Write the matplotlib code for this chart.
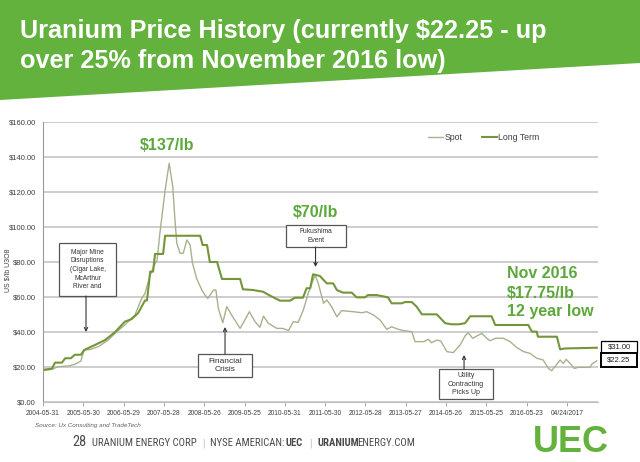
import matplotlib
matplotlib.use("Agg")

import numpy as np
import matplotlib.pyplot as plt
from matplotlib.patches import Polygon, Rectangle
from matplotlib import font_manager

# narrow family for the footer, only if it also has a bold face
weights = {}
for f in font_manager.fontManager.ttflist:
    w = f.weight if isinstance(f.weight, int) else 700 if 'bold' in str(f.weight) else 400
    weights.setdefault(f.name, set()).add(w)
narrow = 'Liberation Sans'
for cand in ['Liberation Sans Narrow', 'Arial Narrow', 'Archivo Narrow', 'Roboto Condensed',
             'PT Sans Narrow']:
    if cand in weights and max(weights[cand]) >= 600 and min(weights[cand]) <= 500:
        narrow = cand
        break
plt.rcParams['font.family'] = ['Liberation Sans', 'DejaVu Sans']

# Data (decimal years, US$/lb)
lt_year = [2004.43, 2004.63, 2004.71, 2004.88, 2004.96, 2005.10, 2005.20, 2005.35, 2005.43,
           2005.70, 2005.95, 2006.20, 2006.44, 2006.61, 2006.77, 2006.94, 2006.99, 2007.07,
           2007.14, 2007.19, 2007.39, 2007.44, 2008.31, 2008.37, 2008.48, 2008.55, 2008.73,
           2008.85, 2009.30, 2009.37, 2009.62, 2009.87, 2010.04, 2010.29, 2010.54, 2010.66,
           2010.86, 2010.95, 2011.04, 2011.11, 2011.28, 2011.45, 2011.61, 2011.70, 2011.85,
           2012.07, 2012.19, 2012.40, 2012.47, 2012.69, 2012.97, 2013.06, 2013.31, 2013.39,
           2013.56, 2013.68, 2013.81, 2014.18, 2014.39, 2014.55, 2014.72, 2014.88, 2015.01,
           2015.54, 2015.63, 2016.45, 2016.54, 2016.66, 2016.69, 2017.16, 2017.24, 2017.36,
           2018.15]
lt_price = [18.5, 19.0, 22.5, 22.5, 25.0, 25.0, 27.0, 27.0, 29.7,
            32.6, 35.4, 40.0, 45.9, 47.4, 50.8, 58.0, 58.0, 74.5,
            74.5, 84.6, 84.6, 95.0, 95.0, 89.7, 89.7, 80.0, 80.0,
            70.3, 70.3, 64.4, 64.0, 63.0, 60.8, 57.9, 57.9, 59.6,
            59.6, 65.0, 65.0, 73.0, 72.0, 67.8, 67.8, 64.0, 62.5,
            62.5, 59.8, 59.8, 61.1, 61.1, 59.8, 56.4, 56.4, 57.1,
            57.1, 54.5, 50.1, 50.1, 45.0, 44.4, 44.4, 45.0, 49.0,
            49.0, 44.0, 44.0, 40.2, 40.2, 37.3, 37.3, 30.1, 30.6,
            31.0]

spot_year = [2004.43, 2004.63, 2004.79, 2005.04, 2005.20, 2005.35, 2005.43, 2005.58, 2005.78,
             2006.03, 2006.24, 2006.44, 2006.69, 2006.86, 2006.94, 2007.07, 2007.19, 2007.24,
             2007.31, 2007.44, 2007.54, 2007.63, 2007.69, 2007.73, 2007.81, 2007.89, 2007.98,
             2008.06, 2008.12, 2008.22, 2008.35, 2008.43, 2008.50, 2008.64, 2008.70, 2008.76,
             2008.87, 2008.97, 2009.09, 2009.30, 2009.42, 2009.53, 2009.67, 2009.79, 2009.88,
             2010.00, 2010.21, 2010.37, 2010.50, 2010.62, 2010.74, 2010.87, 2010.99, 2011.08,
             2011.16, 2011.24, 2011.37, 2011.45, 2011.57, 2011.70, 2011.82, 2012.11, 2012.32,
             2012.44, 2012.61, 2012.77, 2012.94, 2013.06, 2013.19, 2013.35, 2013.56, 2013.64,
             2013.85, 2013.97, 2014.05, 2014.18, 2014.28, 2014.43, 2014.59, 2014.76, 2014.88,
             2014.96, 2015.07, 2015.17, 2015.30, 2015.42, 2015.50, 2015.63, 2015.83, 2016.00,
             2016.16, 2016.33, 2016.49, 2016.66, 2016.82, 2016.95, 2017.03, 2017.11, 2017.24,
             2017.32, 2017.39, 2017.49, 2017.59, 2017.69, 2017.98, 2018.03, 2018.15]
spot_price = [18.0, 18.7, 20.2, 20.6, 21.5, 23.4, 29.7, 30.0, 31.6,
              35.4, 40.2, 44.0, 49.7, 59.2, 62.0, 72.6, 79.0, 81.0,
              96.4, 121.0, 136.4, 123.0, 102.0, 90.6, 85.0, 85.0, 92.6,
              89.7, 79.2, 70.7, 64.0, 61.1, 59.2, 64.0, 64.0, 53.5,
              45.3, 54.5, 49.7, 42.1, 46.9, 51.6, 45.9, 42.7, 49.1,
              45.0, 42.1, 42.0, 40.8, 45.9, 45.5, 52.6, 62.1, 67.8,
              72.6, 67.8, 56.4, 58.3, 54.5, 48.7, 52.2, 51.6, 51.0,
              51.6, 49.7, 46.9, 41.5, 43.0, 41.8, 40.8, 40.2, 34.5,
              34.5, 35.8, 33.9, 35.4, 34.8, 28.8, 28.2, 32.6, 37.7,
              39.6, 36.4, 37.7, 39.2, 36.4, 35.0, 36.4, 36.4, 34.5,
              31.2, 28.8, 27.8, 25.0, 24.0, 19.2, 17.9, 20.2, 24.0,
              22.0, 24.4, 22.0, 19.2, 19.8, 19.8, 21.7, 23.5]

tick_labels = ['2004-05-31', '2005-05-30', '2006-05-29', '2007-05-28', '2008-05-26',
               '2009-05-25', '2010-05-31', '2011-05-30', '2012-05-28', '2013-05-27',
               '2014-05-26', '2015-05-25', '2016-05-23', '04/24/2017']
x0 = 2004.41

green = '#5DA83C'
lt_color = '#74963A'
spot_color = '#A6B28E'

fig = plt.figure(figsize=(6.4, 4.62), dpi=100)
W, H = 640.0, 462.0

# green banner with slanted bottom edge
fig.patches.append(Polygon([(0, 1), (1, 1), (1, 1 - 63 / H), (0, 1 - 100 / H)],
                           closed=True, transform=fig.transFigure,
                           facecolor='#63B23D', edgecolor='none', zorder=0))
fig.text(20 / W, 1 - 38 / H, 'Uranium Price History (currently $22.25 - up',
         color='white', fontsize=18.2, fontweight='bold', va='baseline')
fig.text(20 / W, 1 - 68 / H, 'over 25% from November 2016 low)',
         color='white', fontsize=18.2, fontweight='bold', va='baseline')

ax = fig.add_axes([43 / W, 1 - 402 / H, (598 - 43) / W, (402 - 122) / H])
ax.plot(spot_year, spot_price, color=spot_color, lw=1.0, label='Spot')
ax.plot(lt_year, lt_price, color=lt_color, lw=1.5, label='Long Term')

ax.set_xlim(x0, x0 + 13.77)
ax.set_ylim(0, 160)
ax.set_yticks(np.arange(0, 161, 20))
ax.set_yticklabels([f'${v:.2f}' for v in np.arange(0, 161, 20)])
ax.set_xticks([x0 + i for i in range(len(tick_labels))])
ax.set_xticklabels(tick_labels)
ax.tick_params(axis='y', labelsize=5.5, colors='#404040', length=0, pad=5)
ax.tick_params(axis='x', labelsize=4.8, labelcolor='#404040', color='#999999',
               length=3, width=0.6, pad=3)
ax.grid(axis='y', color='#C0C0C0', lw=1.1)
ax.set_axisbelow(True)
for s in ['top', 'right']:
    ax.spines[s].set_visible(False)
ax.spines['left'].set_color('#999999')
ax.spines['bottom'].set_color('#C0C0C0')
ax.set_ylabel('US $/lb U3O8', fontsize=5, color='#404040')
ax.yaxis.set_label_coords((11 - 43) / 555, (402 - 270) / 280)

ax.legend(loc='center left', bbox_to_anchor=((428 - 43) / 555, (402 - 138) / 280), ncol=2,
          frameon=False, fontsize=6.3, handlelength=1.7, handletextpad=0.15,
          columnspacing=2.3, borderpad=0, borderaxespad=0, labelcolor='#404040')


def px(x):
    return x0 + (x - 43) / 40.3


def py(y):
    return (402 - y) / 1.75


big = dict(color=green, fontsize=11.5, fontweight='bold', va='baseline')
ax.text(px(167), py(150), '$137/lb', ha='center', **big)
ax.text(px(315), py(217), '$70/lb', ha='center', **big)
ax.text(px(507), py(278), 'Nov 2016', ha='left', **big)
ax.text(px(507), py(298), '$17.75/lb', ha='left', **big)
ax.text(px(507), py(316), '12 year low', ha='left', **big)

arrow = dict(arrowstyle='->', color='#333333', lw=0.8, shrinkA=0, shrinkB=0,
             mutation_scale=6)


def note(x_left, x_right, y_top, y_bot, text, fs, tip_y, tail_y, arrow_x):
    ax.add_patch(Rectangle((px(x_left), py(y_bot)), px(x_right) - px(x_left),
                           py(y_top) - py(y_bot), facecolor='white', edgecolor='#555555',
                           lw=0.9, zorder=4, clip_on=False))
    ax.text(px((x_left + x_right) / 2), py((y_top + y_bot) / 2), text, fontsize=fs,
            color='#333333', ha='center', va='center', linespacing=1.3, zorder=5)
    ax.annotate('', xy=(px(arrow_x), py(tip_y)), xytext=(px(arrow_x), py(tail_y)),
                arrowprops=arrow, zorder=5)


note(59, 116, 243, 296, 'Major Mine\nDisruptions\n(Cigar Lake,\nMcArthur\nRiver and', 4.8,
     332, 296, 86)
note(286, 346, 225, 247, 'Fukushima\nEvent', 4.8, 267, 247, 315.5)
note(198, 252, 354, 377, 'Financial\nCrisis', 6, 327, 354, 225)
note(439, 493, 369, 399, 'Utility\nContracting\nPicks Up', 5, 355, 369, 464)

# value boxes at right
for (y0, y1, lab, lw) in [(341, 353, '$31.00', 0.9), (353, 367, '$22.25', 1.4)]:
    fig.patches.append(Rectangle((601 / W, 1 - y1 / H), 36 / W, (y1 - y0) / H,
                                 transform=fig.transFigure, facecolor='white',
                                 edgecolor='black', lw=lw))
    fig.text(619 / W, 1 - (y0 + y1) / 2 / H, lab, ha='center', va='center',
             fontsize=5.5, color='#222222')

fig.text(35 / W, 1 - 425 / H, 'Source: Ux Consulting and TradeTech', fontsize=4.5,
         style='italic', color='#606060', va='center')

# footer, pieces chained left to right, scaled to fit 72..415 px
fig.canvas.draw()
r = fig.canvas.get_renderer()
parts = [('28', 1.35, 'normal', 0), ('URANIUM ENERGY CORP', 1.0, 'normal', 6),
         ('|', 1.0, 'normal', 5), ('NYSE AMERICAN: ', 1.0, 'normal', 5),
         ('UEC', 1.0, 'bold', -1), ('|', 1.0, 'normal', 6),
         ('URANIUM', 1.0, 'bold', 6), ('ENERGY.COM', 1.0, 'normal', -1.5)]


def chain(base):
    xpos = 72
    made = []
    for txt, scale, fw, gap in parts:
        xpos += gap
        col = '#BBBBBB' if txt == '|' else '#4A4A4A'
        t = fig.text(xpos / W, 1 - 446 / H, txt, fontsize=base * scale, fontweight=fw,
                     color=col, family=narrow, va='baseline')
        made.append(t)
        xpos += t.get_window_extent(r).width
    return made, xpos


made, end = chain(8)
for t in made:
    t.remove()
base = 8 * (415 - 72 - 31) / (end - 72 - 31)
chain(base)

fig.text(571 / W, 1 - 442 / H, 'UEC', fontsize=26, fontweight='bold',
         color='#63B23D', ha='center', va='center')

fig.savefig('out.png', dpi=100)
